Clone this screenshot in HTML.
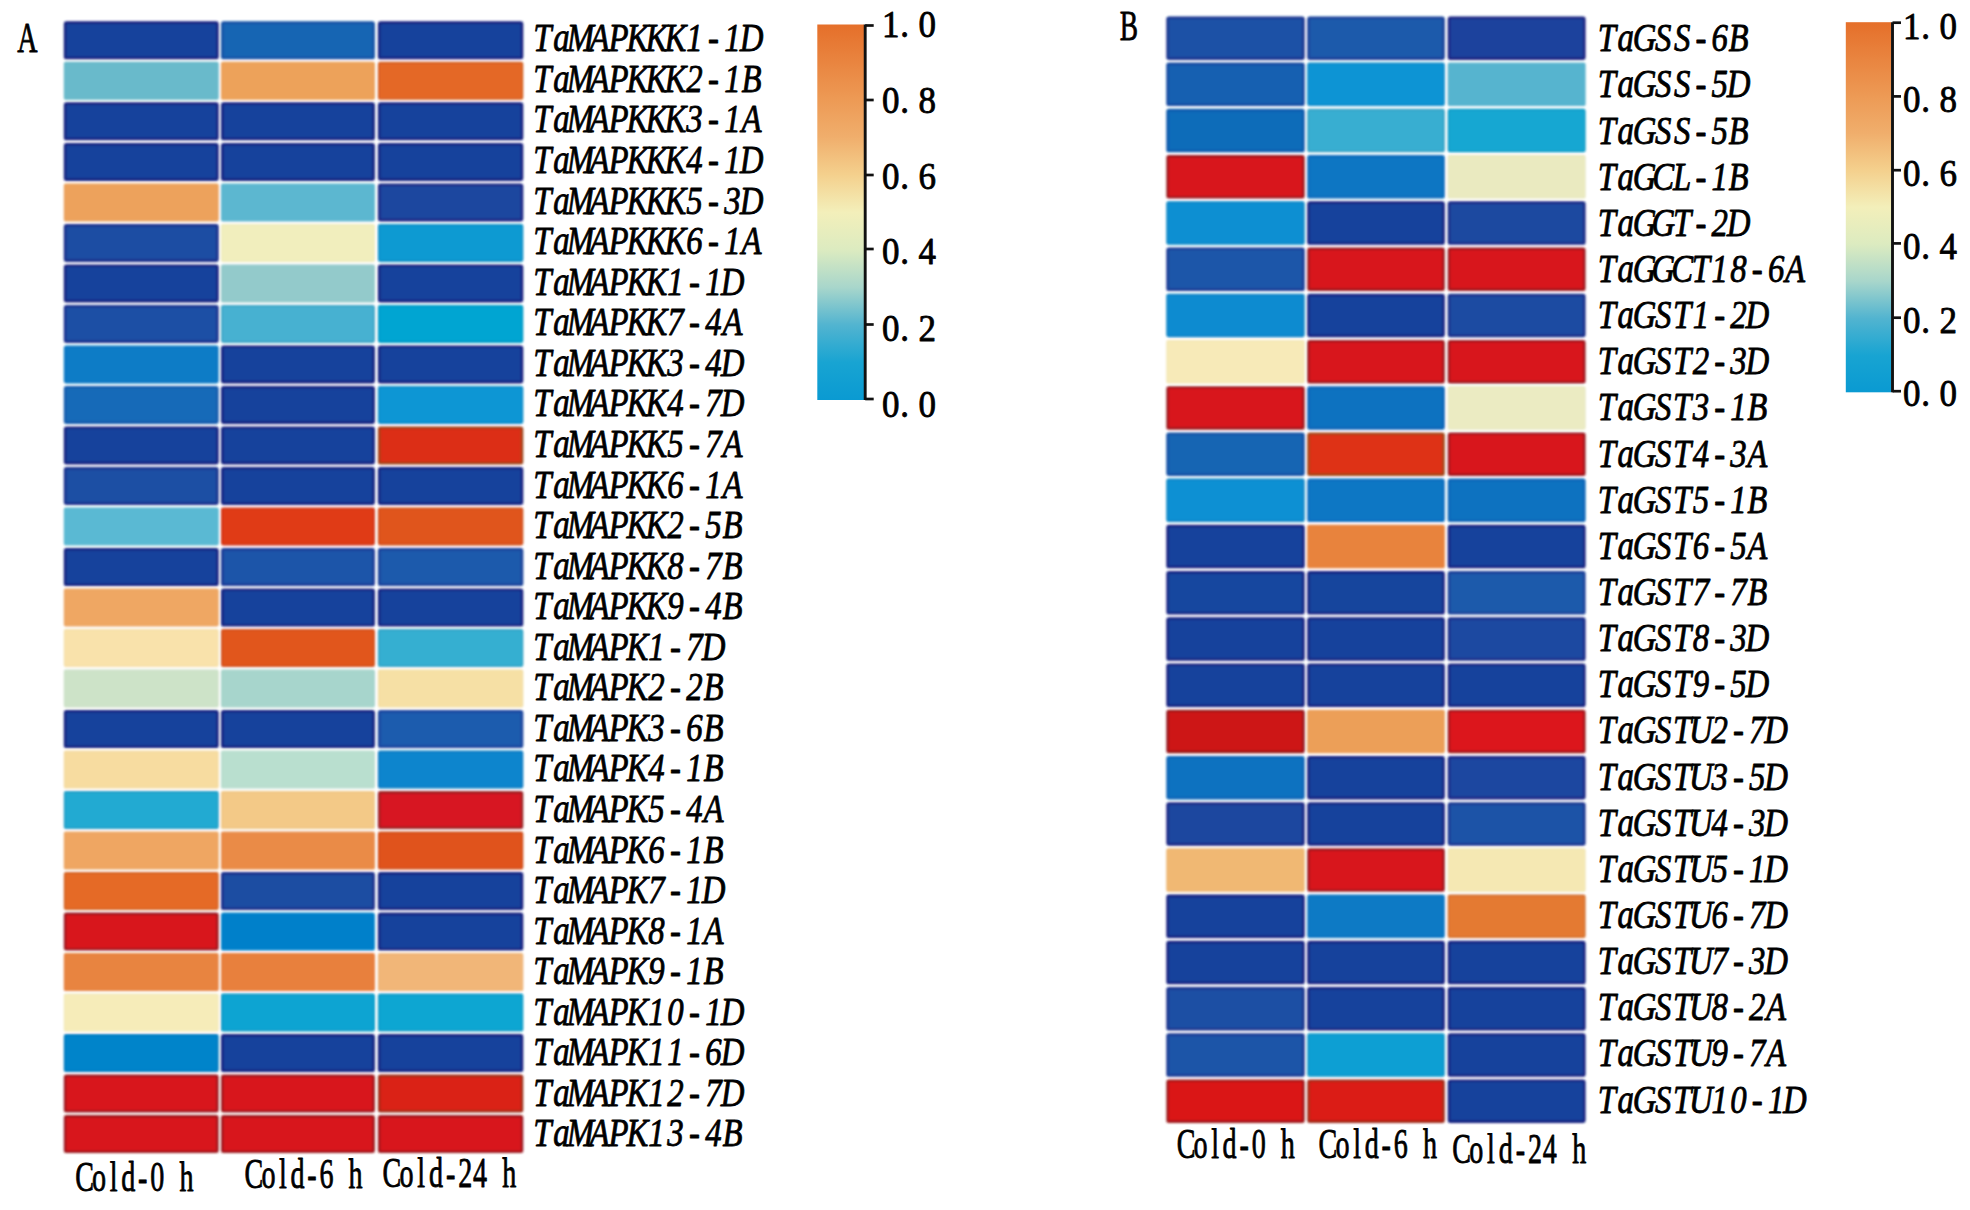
<!DOCTYPE html>
<html lang="en"><head><meta charset="utf-8"><title>Heatmap</title>
<style>
html,body{margin:0;padding:0;background:#fff}
svg{display:block}
text{font-family:"Liberation Serif",serif;fill:#000;stroke:#000;stroke-width:0.85px;stroke-linejoin:round}
</style></head>
<body>
<svg width="1970" height="1210" viewBox="0 0 1970 1210">
<defs>
<linearGradient id="cb" x1="0" y1="0" x2="0" y2="1">
<stop offset="0" stop-color="#e56f2a"/>
<stop offset="0.2" stop-color="#ed9a55"/>
<stop offset="0.3" stop-color="#f0ae6c"/>
<stop offset="0.4" stop-color="#f4d08d"/>
<stop offset="0.5" stop-color="#f3efba"/>
<stop offset="0.6" stop-color="#dcebc0"/>
<stop offset="0.7" stop-color="#a8d6cb"/>
<stop offset="0.8" stop-color="#52b4d0"/>
<stop offset="0.9" stop-color="#18a4d2"/>
<stop offset="1" stop-color="#0a9ad2"/>
</linearGradient>
<filter id="bl" x="-2%" y="-2%" width="104%" height="104%"><feGaussianBlur stdDeviation="0.9"/></filter>
</defs>
<rect width="1970" height="1210" fill="#fff"/>
<g id="cellsA" filter="url(#bl)">
<rect x="65.10" y="22.65" width="152.30" height="35.40" rx="1.3" fill="#18429c" stroke="#192280" stroke-width="2.6"/>
<rect x="222.30" y="22.65" width="151.30" height="35.40" rx="1.3" fill="#1565b3" stroke="#1552a6" stroke-width="2.6"/>
<rect x="379.20" y="22.65" width="142.80" height="35.40" rx="1.3" fill="#18429c" stroke="#192280" stroke-width="2.6"/>
<rect x="64.40" y="62.46" width="153.70" height="36.80" rx="1.3" fill="#69bacb" stroke="#67b7c8" stroke-width="1.2"/>
<rect x="221.60" y="62.46" width="152.70" height="36.80" rx="1.3" fill="#eda25a" stroke="#e9a059" stroke-width="1.2"/>
<rect x="378.70" y="62.66" width="143.80" height="36.40" rx="1.3" fill="#e46725" stroke="#d25f23" stroke-width="1.6"/>
<rect x="65.10" y="103.67" width="152.30" height="35.40" rx="1.3" fill="#18429c" stroke="#192280" stroke-width="2.6"/>
<rect x="222.30" y="103.67" width="151.30" height="35.40" rx="1.3" fill="#18429c" stroke="#192280" stroke-width="2.6"/>
<rect x="379.20" y="103.67" width="142.80" height="35.40" rx="1.3" fill="#18429c" stroke="#192280" stroke-width="2.6"/>
<rect x="65.10" y="144.18" width="152.30" height="35.40" rx="1.3" fill="#18429c" stroke="#192280" stroke-width="2.6"/>
<rect x="222.30" y="144.18" width="151.30" height="35.40" rx="1.3" fill="#18429c" stroke="#192280" stroke-width="2.6"/>
<rect x="379.20" y="144.18" width="142.80" height="35.40" rx="1.3" fill="#18429c" stroke="#192280" stroke-width="2.6"/>
<rect x="64.40" y="183.99" width="153.70" height="36.80" rx="1.3" fill="#eda25c" stroke="#e9a05b" stroke-width="1.2"/>
<rect x="221.60" y="183.99" width="152.70" height="36.80" rx="1.3" fill="#5cb7d0" stroke="#5bb4cd" stroke-width="1.2"/>
<rect x="379.20" y="184.69" width="142.80" height="35.40" rx="1.3" fill="#1a469f" stroke="#1b2684" stroke-width="2.6"/>
<rect x="65.10" y="225.20" width="152.30" height="35.40" rx="1.3" fill="#1a4da3" stroke="#1b2f8b" stroke-width="2.6"/>
<rect x="221.60" y="224.50" width="152.70" height="36.80" rx="1.3" fill="#f1eebd" stroke="#edeaba" stroke-width="1.2"/>
<rect x="378.70" y="224.70" width="143.80" height="36.40" rx="1.3" fill="#0a9ad2" stroke="#098ec5" stroke-width="1.6"/>
<rect x="65.10" y="265.71" width="152.30" height="35.40" rx="1.3" fill="#18429c" stroke="#192280" stroke-width="2.6"/>
<rect x="221.60" y="265.01" width="152.70" height="36.80" rx="1.3" fill="#93cacb" stroke="#91c7c8" stroke-width="1.2"/>
<rect x="379.20" y="265.71" width="142.80" height="35.40" rx="1.3" fill="#18429c" stroke="#192280" stroke-width="2.6"/>
<rect x="65.10" y="306.22" width="152.30" height="35.40" rx="1.3" fill="#1a50a5" stroke="#1b338f" stroke-width="2.6"/>
<rect x="221.80" y="305.72" width="152.30" height="36.40" rx="1.3" fill="#46b1d1" stroke="#40a3c4" stroke-width="1.6"/>
<rect x="378.70" y="305.72" width="143.80" height="36.40" rx="1.3" fill="#00a5d2" stroke="#0098c5" stroke-width="1.6"/>
<rect x="65.10" y="346.73" width="152.30" height="35.40" rx="1.3" fill="#0d7bc6" stroke="#0d79c5" stroke-width="2.6"/>
<rect x="222.30" y="346.73" width="151.30" height="35.40" rx="1.3" fill="#18429c" stroke="#192280" stroke-width="2.6"/>
<rect x="379.20" y="346.73" width="142.80" height="35.40" rx="1.3" fill="#18429c" stroke="#192280" stroke-width="2.6"/>
<rect x="65.10" y="387.24" width="152.30" height="35.40" rx="1.3" fill="#136bb8" stroke="#135cae" stroke-width="2.6"/>
<rect x="222.30" y="387.24" width="151.30" height="35.40" rx="1.3" fill="#18429c" stroke="#192280" stroke-width="2.6"/>
<rect x="378.70" y="386.74" width="143.80" height="36.40" rx="1.3" fill="#0d96d4" stroke="#0c8ac7" stroke-width="1.6"/>
<rect x="65.10" y="427.75" width="152.30" height="35.40" rx="1.3" fill="#18429c" stroke="#192280" stroke-width="2.6"/>
<rect x="222.30" y="427.75" width="151.30" height="35.40" rx="1.3" fill="#18429c" stroke="#192280" stroke-width="2.6"/>
<rect x="379.10" y="427.65" width="143.00" height="35.60" rx="1.3" fill="#dc2f17" stroke="#9e421c" stroke-width="2.4"/>
<rect x="65.10" y="468.26" width="152.30" height="35.40" rx="1.3" fill="#1a4fa4" stroke="#1b328d" stroke-width="2.6"/>
<rect x="222.30" y="468.26" width="151.30" height="35.40" rx="1.3" fill="#18429c" stroke="#192280" stroke-width="2.6"/>
<rect x="379.20" y="468.26" width="142.80" height="35.40" rx="1.3" fill="#18429c" stroke="#192280" stroke-width="2.6"/>
<rect x="64.40" y="508.07" width="153.70" height="36.80" rx="1.3" fill="#5ab9d3" stroke="#59b6d0" stroke-width="1.2"/>
<rect x="221.80" y="508.27" width="152.30" height="36.40" rx="1.3" fill="#e03a16" stroke="#ce3515" stroke-width="1.6"/>
<rect x="378.70" y="508.27" width="143.80" height="36.40" rx="1.3" fill="#e0551c" stroke="#ce4e1a" stroke-width="1.6"/>
<rect x="65.10" y="549.28" width="152.30" height="35.40" rx="1.3" fill="#18429c" stroke="#192280" stroke-width="2.6"/>
<rect x="222.30" y="549.28" width="151.30" height="35.40" rx="1.3" fill="#1d55a9" stroke="#1e3b96" stroke-width="2.6"/>
<rect x="379.20" y="549.28" width="142.80" height="35.40" rx="1.3" fill="#1a5aac" stroke="#1b429a" stroke-width="2.6"/>
<rect x="64.40" y="589.09" width="153.70" height="36.80" rx="1.3" fill="#efa763" stroke="#eba462" stroke-width="1.2"/>
<rect x="222.30" y="589.79" width="151.30" height="35.40" rx="1.3" fill="#18429c" stroke="#192280" stroke-width="2.6"/>
<rect x="379.20" y="589.79" width="142.80" height="35.40" rx="1.3" fill="#18429c" stroke="#192280" stroke-width="2.6"/>
<rect x="64.40" y="629.60" width="153.70" height="36.80" rx="1.3" fill="#f9e2ab" stroke="#f5dfa8" stroke-width="1.2"/>
<rect x="221.80" y="629.80" width="152.30" height="36.40" rx="1.3" fill="#e1571d" stroke="#cf501b" stroke-width="1.6"/>
<rect x="378.70" y="629.80" width="143.80" height="36.40" rx="1.3" fill="#36afd1" stroke="#32a1c4" stroke-width="1.6"/>
<rect x="64.40" y="670.11" width="153.70" height="36.80" rx="1.3" fill="#cde3c8" stroke="#cae0c5" stroke-width="1.2"/>
<rect x="221.60" y="670.11" width="152.70" height="36.80" rx="1.3" fill="#a7d5cc" stroke="#a4d2c9" stroke-width="1.2"/>
<rect x="378.50" y="670.11" width="144.20" height="36.80" rx="1.3" fill="#f6e0a5" stroke="#f2dda3" stroke-width="1.2"/>
<rect x="65.10" y="711.32" width="152.30" height="35.40" rx="1.3" fill="#18429c" stroke="#192280" stroke-width="2.6"/>
<rect x="222.30" y="711.32" width="151.30" height="35.40" rx="1.3" fill="#18429c" stroke="#192280" stroke-width="2.6"/>
<rect x="379.20" y="711.32" width="142.80" height="35.40" rx="1.3" fill="#1a5cae" stroke="#1b459e" stroke-width="2.6"/>
<rect x="64.40" y="751.13" width="153.70" height="36.80" rx="1.3" fill="#f7dca0" stroke="#f3d99e" stroke-width="1.2"/>
<rect x="221.60" y="751.13" width="152.70" height="36.80" rx="1.3" fill="#b9dfcf" stroke="#b6dccc" stroke-width="1.2"/>
<rect x="378.70" y="751.33" width="143.80" height="36.40" rx="1.3" fill="#0c85cd" stroke="#0b7ac1" stroke-width="1.6"/>
<rect x="64.60" y="791.84" width="153.30" height="36.40" rx="1.3" fill="#23aad2" stroke="#209cc5" stroke-width="1.6"/>
<rect x="221.60" y="791.64" width="152.70" height="36.80" rx="1.3" fill="#f3c987" stroke="#efc685" stroke-width="1.2"/>
<rect x="379.10" y="792.24" width="143.00" height="35.60" rx="1.3" fill="#d71920" stroke="#9b2326" stroke-width="2.4"/>
<rect x="64.40" y="832.15" width="153.70" height="36.80" rx="1.3" fill="#efa662" stroke="#eba461" stroke-width="1.2"/>
<rect x="221.60" y="832.15" width="152.70" height="36.80" rx="1.3" fill="#ea8b47" stroke="#e68946" stroke-width="1.2"/>
<rect x="378.70" y="832.35" width="143.80" height="36.40" rx="1.3" fill="#e0531a" stroke="#ce4c18" stroke-width="1.6"/>
<rect x="64.60" y="872.86" width="153.30" height="36.40" rx="1.3" fill="#e56a26" stroke="#d36224" stroke-width="1.6"/>
<rect x="222.30" y="873.36" width="151.30" height="35.40" rx="1.3" fill="#1c4da2" stroke="#1d2f8b" stroke-width="2.6"/>
<rect x="379.20" y="873.36" width="142.80" height="35.40" rx="1.3" fill="#18429c" stroke="#192280" stroke-width="2.6"/>
<rect x="65.00" y="913.77" width="152.50" height="35.60" rx="1.3" fill="#d8131b" stroke="#9c1b20" stroke-width="2.4"/>
<rect x="222.30" y="913.87" width="151.30" height="35.40" rx="1.3" fill="#0680ca" stroke="#0680ca" stroke-width="2.6"/>
<rect x="379.20" y="913.87" width="142.80" height="35.40" rx="1.3" fill="#18429c" stroke="#192280" stroke-width="2.6"/>
<rect x="64.40" y="953.68" width="153.70" height="36.80" rx="1.3" fill="#e88440" stroke="#e5823f" stroke-width="1.2"/>
<rect x="221.60" y="953.68" width="152.70" height="36.80" rx="1.3" fill="#e8803d" stroke="#e57e3c" stroke-width="1.2"/>
<rect x="378.50" y="953.68" width="144.20" height="36.80" rx="1.3" fill="#f1b678" stroke="#edb376" stroke-width="1.2"/>
<rect x="64.40" y="994.19" width="153.70" height="36.80" rx="1.3" fill="#f6ecb9" stroke="#f2e8b6" stroke-width="1.2"/>
<rect x="221.80" y="994.39" width="152.30" height="36.40" rx="1.3" fill="#08a4d2" stroke="#0797c5" stroke-width="1.6"/>
<rect x="378.70" y="994.39" width="143.80" height="36.40" rx="1.3" fill="#10a6d2" stroke="#0f99c5" stroke-width="1.6"/>
<rect x="64.60" y="1034.90" width="153.30" height="36.40" rx="1.3" fill="#0584ca" stroke="#0579be" stroke-width="1.6"/>
<rect x="222.30" y="1035.40" width="151.30" height="35.40" rx="1.3" fill="#18429c" stroke="#192280" stroke-width="2.6"/>
<rect x="379.20" y="1035.40" width="142.80" height="35.40" rx="1.3" fill="#18429c" stroke="#192280" stroke-width="2.6"/>
<rect x="65.00" y="1075.81" width="152.50" height="35.60" rx="1.3" fill="#d8131b" stroke="#9c1b20" stroke-width="2.4"/>
<rect x="222.20" y="1075.81" width="151.50" height="35.60" rx="1.3" fill="#d8131b" stroke="#9c1b20" stroke-width="2.4"/>
<rect x="379.10" y="1075.81" width="143.00" height="35.60" rx="1.3" fill="#da2018" stroke="#9d2d1d" stroke-width="2.4"/>
<rect x="65.00" y="1116.32" width="152.50" height="35.60" rx="1.3" fill="#d8131b" stroke="#9c1b20" stroke-width="2.4"/>
<rect x="222.20" y="1116.32" width="151.50" height="35.60" rx="1.3" fill="#d8131b" stroke="#9c1b20" stroke-width="2.4"/>
<rect x="379.10" y="1116.32" width="143.00" height="35.60" rx="1.3" fill="#d8131b" stroke="#9c1b20" stroke-width="2.4"/>
</g>
<g id="labelsA">
<text transform="scale(0.8000,1)" x="666.72 691.62 708.55 736.85 760.60 783.20 806.95 830.70 857.87 885.05 905.37 924.57" y="51.4" font-size="41.0" font-style="italic">TaMAPKKK1-1D</text>
<text transform="scale(0.8000,1)" x="666.72 691.62 708.55 736.85 760.60 783.20 806.95 830.70 857.87 885.05 905.37 926.85" y="92.0" font-size="41.0" font-style="italic">TaMAPKKK2-1B</text>
<text transform="scale(0.8000,1)" x="666.72 691.62 708.55 736.85 760.60 783.20 806.95 830.70 857.87 885.05 905.37 926.85" y="132.5" font-size="41.0" font-style="italic">TaMAPKKK3-1A</text>
<text transform="scale(0.8000,1)" x="666.72 691.62 708.55 736.85 760.60 783.20 806.95 830.70 857.87 885.05 905.37 924.57" y="173.1" font-size="41.0" font-style="italic">TaMAPKKK4-1D</text>
<text transform="scale(0.8000,1)" x="666.72 691.62 708.55 736.85 760.60 783.20 806.95 830.70 857.87 885.05 905.37 924.57" y="213.6" font-size="41.0" font-style="italic">TaMAPKKK5-3D</text>
<text transform="scale(0.8000,1)" x="666.72 691.62 708.55 736.85 760.60 783.20 806.95 830.70 857.87 885.05 905.37 926.85" y="254.2" font-size="41.0" font-style="italic">TaMAPKKK6-1A</text>
<text transform="scale(0.8000,1)" x="666.72 691.62 708.55 736.85 760.60 783.20 806.95 834.12 861.30 881.62 900.82" y="294.8" font-size="41.0" font-style="italic">TaMAPKK1-1D</text>
<text transform="scale(0.8000,1)" x="666.72 691.62 708.55 736.85 760.60 783.20 806.95 834.12 861.30 881.62 903.10" y="335.3" font-size="41.0" font-style="italic">TaMAPKK7-4A</text>
<text transform="scale(0.8000,1)" x="666.72 691.62 708.55 736.85 760.60 783.20 806.95 834.12 861.30 881.62 900.82" y="375.9" font-size="41.0" font-style="italic">TaMAPKK3-4D</text>
<text transform="scale(0.8000,1)" x="666.72 691.62 708.55 736.85 760.60 783.20 806.95 834.12 861.30 881.62 900.82" y="416.4" font-size="41.0" font-style="italic">TaMAPKK4-7D</text>
<text transform="scale(0.8000,1)" x="666.72 691.62 708.55 736.85 760.60 783.20 806.95 834.12 861.30 881.62 903.10" y="457.0" font-size="41.0" font-style="italic">TaMAPKK5-7A</text>
<text transform="scale(0.8000,1)" x="666.72 691.62 708.55 736.85 760.60 783.20 806.95 834.12 861.30 881.62 903.10" y="497.6" font-size="41.0" font-style="italic">TaMAPKK6-1A</text>
<text transform="scale(0.8000,1)" x="666.72 691.62 708.55 736.85 760.60 783.20 806.95 834.12 861.30 881.62 903.10" y="538.1" font-size="41.0" font-style="italic">TaMAPKK2-5B</text>
<text transform="scale(0.8000,1)" x="666.72 691.62 708.55 736.85 760.60 783.20 806.95 834.12 861.30 881.62 903.10" y="578.7" font-size="41.0" font-style="italic">TaMAPKK8-7B</text>
<text transform="scale(0.8000,1)" x="666.72 691.62 708.55 736.85 760.60 783.20 806.95 834.12 861.30 881.62 903.10" y="619.2" font-size="41.0" font-style="italic">TaMAPKK9-4B</text>
<text transform="scale(0.8000,1)" x="666.72 691.62 708.55 736.85 760.60 783.20 810.37 837.55 857.87 877.07" y="659.8" font-size="41.0" font-style="italic">TaMAPK1-7D</text>
<text transform="scale(0.8000,1)" x="666.72 691.62 708.55 736.85 760.60 783.20 810.37 837.55 857.87 879.35" y="700.4" font-size="41.0" font-style="italic">TaMAPK2-2B</text>
<text transform="scale(0.8000,1)" x="666.72 691.62 708.55 736.85 760.60 783.20 810.37 837.55 857.87 879.35" y="740.9" font-size="41.0" font-style="italic">TaMAPK3-6B</text>
<text transform="scale(0.8000,1)" x="666.72 691.62 708.55 736.85 760.60 783.20 810.37 837.55 857.87 879.35" y="781.5" font-size="41.0" font-style="italic">TaMAPK4-1B</text>
<text transform="scale(0.8000,1)" x="666.72 691.62 708.55 736.85 760.60 783.20 810.37 837.55 857.87 879.35" y="822.0" font-size="41.0" font-style="italic">TaMAPK5-4A</text>
<text transform="scale(0.8000,1)" x="666.72 691.62 708.55 736.85 760.60 783.20 810.37 837.55 857.87 879.35" y="862.6" font-size="41.0" font-style="italic">TaMAPK6-1B</text>
<text transform="scale(0.8000,1)" x="666.72 691.62 708.55 736.85 760.60 783.20 810.37 837.55 857.87 877.07" y="903.2" font-size="41.0" font-style="italic">TaMAPK7-1D</text>
<text transform="scale(0.8000,1)" x="666.72 691.62 708.55 736.85 760.60 783.20 810.37 837.55 857.87 879.35" y="943.7" font-size="41.0" font-style="italic">TaMAPK8-1A</text>
<text transform="scale(0.8000,1)" x="666.72 691.62 708.55 736.85 760.60 783.20 810.37 837.55 857.87 879.35" y="984.3" font-size="41.0" font-style="italic">TaMAPK9-1B</text>
<text transform="scale(0.8000,1)" x="666.72 691.62 708.55 736.85 760.60 783.20 810.37 834.12 861.30 881.62 900.82" y="1024.8" font-size="41.0" font-style="italic">TaMAPK10-1D</text>
<text transform="scale(0.8000,1)" x="666.72 691.62 708.55 736.85 760.60 783.20 810.37 834.12 861.30 881.62 900.82" y="1065.4" font-size="41.0" font-style="italic">TaMAPK11-6D</text>
<text transform="scale(0.8000,1)" x="666.72 691.62 708.55 736.85 760.60 783.20 810.37 834.12 861.30 881.62 900.82" y="1106.0" font-size="41.0" font-style="italic">TaMAPK12-7D</text>
<text transform="scale(0.8000,1)" x="666.72 691.62 708.55 736.85 760.60 783.20 810.37 834.12 861.30 881.62 903.10" y="1146.5" font-size="41.0" font-style="italic">TaMAPK13-4B</text>
</g>
<g id="cellsB" filter="url(#bl)">
<rect x="1167.60" y="17.70" width="135.80" height="40.90" rx="1.3" fill="#1b51a6" stroke="#1c3590" stroke-width="2.6"/>
<rect x="1308.50" y="17.70" width="135.00" height="40.90" rx="1.3" fill="#1a5aab" stroke="#1b4199" stroke-width="2.6"/>
<rect x="1449.00" y="17.70" width="135.30" height="40.90" rx="1.3" fill="#1a439d" stroke="#1b2381" stroke-width="2.6"/>
<rect x="1167.60" y="63.92" width="135.80" height="40.90" rx="1.3" fill="#1461b1" stroke="#144ba2" stroke-width="2.6"/>
<rect x="1308.00" y="63.42" width="136.00" height="41.90" rx="1.3" fill="#0994d4" stroke="#0888c7" stroke-width="1.6"/>
<rect x="1448.30" y="63.22" width="136.70" height="42.30" rx="1.3" fill="#57b4cf" stroke="#56b1cc" stroke-width="1.2"/>
<rect x="1167.60" y="110.14" width="135.80" height="40.90" rx="1.3" fill="#0b6cb9" stroke="#0b5aad" stroke-width="2.6"/>
<rect x="1308.00" y="109.64" width="136.00" height="41.90" rx="1.3" fill="#38aed1" stroke="#34a0c4" stroke-width="1.6"/>
<rect x="1448.50" y="109.64" width="136.30" height="41.90" rx="1.3" fill="#12a7d2" stroke="#119ac5" stroke-width="1.6"/>
<rect x="1167.50" y="156.26" width="136.00" height="41.10" rx="1.3" fill="#d8131b" stroke="#9c1b20" stroke-width="2.4"/>
<rect x="1308.50" y="156.36" width="135.00" height="40.90" rx="1.3" fill="#0976c3" stroke="#096dbd" stroke-width="2.6"/>
<rect x="1448.30" y="155.66" width="136.70" height="42.30" rx="1.3" fill="#eaeac0" stroke="#e6e6bd" stroke-width="1.2"/>
<rect x="1167.10" y="202.08" width="136.80" height="41.90" rx="1.3" fill="#0a8fd2" stroke="#0984c5" stroke-width="1.6"/>
<rect x="1308.50" y="202.58" width="135.00" height="40.90" rx="1.3" fill="#18429c" stroke="#192280" stroke-width="2.6"/>
<rect x="1449.00" y="202.58" width="135.30" height="40.90" rx="1.3" fill="#1a48a0" stroke="#1b2986" stroke-width="2.6"/>
<rect x="1167.60" y="248.80" width="135.80" height="40.90" rx="1.3" fill="#1a56a9" stroke="#1b3b95" stroke-width="2.6"/>
<rect x="1308.40" y="248.70" width="135.20" height="41.10" rx="1.3" fill="#d8131b" stroke="#9c1b20" stroke-width="2.4"/>
<rect x="1448.90" y="248.70" width="135.50" height="41.10" rx="1.3" fill="#d8131b" stroke="#9c1b20" stroke-width="2.4"/>
<rect x="1167.10" y="294.52" width="136.80" height="41.90" rx="1.3" fill="#0a8bd0" stroke="#0980c4" stroke-width="1.6"/>
<rect x="1308.50" y="295.02" width="135.00" height="40.90" rx="1.3" fill="#18429c" stroke="#192280" stroke-width="2.6"/>
<rect x="1449.00" y="295.02" width="135.30" height="40.90" rx="1.3" fill="#1a4ca2" stroke="#1b2e8a" stroke-width="2.6"/>
<rect x="1166.90" y="340.54" width="137.20" height="42.30" rx="1.3" fill="#f7eab8" stroke="#f3e6b5" stroke-width="1.2"/>
<rect x="1308.40" y="341.14" width="135.20" height="41.10" rx="1.3" fill="#d8131b" stroke="#9c1b20" stroke-width="2.4"/>
<rect x="1448.90" y="341.14" width="135.50" height="41.10" rx="1.3" fill="#d8131b" stroke="#9c1b20" stroke-width="2.4"/>
<rect x="1167.50" y="387.36" width="136.00" height="41.10" rx="1.3" fill="#d8131b" stroke="#9c1b20" stroke-width="2.4"/>
<rect x="1308.50" y="387.46" width="135.00" height="40.90" rx="1.3" fill="#0a72c0" stroke="#0a65b8" stroke-width="2.6"/>
<rect x="1448.30" y="386.76" width="136.70" height="42.30" rx="1.3" fill="#ebebc2" stroke="#e7e7bf" stroke-width="1.2"/>
<rect x="1167.60" y="433.68" width="135.80" height="40.90" rx="1.3" fill="#1665b3" stroke="#1652a6" stroke-width="2.6"/>
<rect x="1308.40" y="433.58" width="135.20" height="41.10" rx="1.3" fill="#de3214" stroke="#a04618" stroke-width="2.4"/>
<rect x="1448.90" y="433.58" width="135.50" height="41.10" rx="1.3" fill="#d8131b" stroke="#9c1b20" stroke-width="2.4"/>
<rect x="1167.10" y="479.40" width="136.80" height="41.90" rx="1.3" fill="#0a90d3" stroke="#0984c6" stroke-width="1.6"/>
<rect x="1308.50" y="479.90" width="135.00" height="40.90" rx="1.3" fill="#0c77c4" stroke="#0c70c0" stroke-width="2.6"/>
<rect x="1449.00" y="479.90" width="135.30" height="40.90" rx="1.3" fill="#0b72c0" stroke="#0b66b8" stroke-width="2.6"/>
<rect x="1167.60" y="526.12" width="135.80" height="40.90" rx="1.3" fill="#18429c" stroke="#192280" stroke-width="2.6"/>
<rect x="1307.80" y="525.42" width="136.40" height="42.30" rx="1.3" fill="#e8833d" stroke="#e5813c" stroke-width="1.2"/>
<rect x="1449.00" y="526.12" width="135.30" height="40.90" rx="1.3" fill="#18429c" stroke="#192280" stroke-width="2.6"/>
<rect x="1167.60" y="572.34" width="135.80" height="40.90" rx="1.3" fill="#19469f" stroke="#1a2684" stroke-width="2.6"/>
<rect x="1308.50" y="572.34" width="135.00" height="40.90" rx="1.3" fill="#19449d" stroke="#1a2481" stroke-width="2.6"/>
<rect x="1449.00" y="572.34" width="135.30" height="40.90" rx="1.3" fill="#1a5aab" stroke="#1b4199" stroke-width="2.6"/>
<rect x="1167.60" y="618.56" width="135.80" height="40.90" rx="1.3" fill="#18429c" stroke="#192280" stroke-width="2.6"/>
<rect x="1308.50" y="618.56" width="135.00" height="40.90" rx="1.3" fill="#18429c" stroke="#192280" stroke-width="2.6"/>
<rect x="1449.00" y="618.56" width="135.30" height="40.90" rx="1.3" fill="#1a4aa1" stroke="#1b2b88" stroke-width="2.6"/>
<rect x="1167.60" y="664.78" width="135.80" height="40.90" rx="1.3" fill="#18429c" stroke="#192280" stroke-width="2.6"/>
<rect x="1308.50" y="664.78" width="135.00" height="40.90" rx="1.3" fill="#18429c" stroke="#192280" stroke-width="2.6"/>
<rect x="1449.00" y="664.78" width="135.30" height="40.90" rx="1.3" fill="#18429c" stroke="#192280" stroke-width="2.6"/>
<rect x="1167.50" y="710.90" width="136.00" height="41.10" rx="1.3" fill="#cd1219" stroke="#94191e" stroke-width="2.4"/>
<rect x="1307.80" y="710.30" width="136.40" height="42.30" rx="1.3" fill="#ec9f58" stroke="#e89d57" stroke-width="1.2"/>
<rect x="1448.90" y="710.90" width="135.50" height="41.10" rx="1.3" fill="#dc131a" stroke="#9e1b1f" stroke-width="2.4"/>
<rect x="1167.60" y="757.22" width="135.80" height="40.90" rx="1.3" fill="#0b72c0" stroke="#0b66b8" stroke-width="2.6"/>
<rect x="1308.50" y="757.22" width="135.00" height="40.90" rx="1.3" fill="#18429c" stroke="#192280" stroke-width="2.6"/>
<rect x="1449.00" y="757.22" width="135.30" height="40.90" rx="1.3" fill="#1a46a0" stroke="#1b2685" stroke-width="2.6"/>
<rect x="1167.60" y="803.44" width="135.80" height="40.90" rx="1.3" fill="#1a469f" stroke="#1b2684" stroke-width="2.6"/>
<rect x="1308.50" y="803.44" width="135.00" height="40.90" rx="1.3" fill="#18429c" stroke="#192280" stroke-width="2.6"/>
<rect x="1449.00" y="803.44" width="135.30" height="40.90" rx="1.3" fill="#1a52a7" stroke="#1b3691" stroke-width="2.6"/>
<rect x="1166.90" y="848.96" width="137.20" height="42.30" rx="1.3" fill="#f0b873" stroke="#ecb571" stroke-width="1.2"/>
<rect x="1308.40" y="849.56" width="135.20" height="41.10" rx="1.3" fill="#d8131b" stroke="#9c1b20" stroke-width="2.4"/>
<rect x="1448.30" y="848.96" width="136.70" height="42.30" rx="1.3" fill="#f5e8b3" stroke="#f1e5b0" stroke-width="1.2"/>
<rect x="1167.60" y="895.88" width="135.80" height="40.90" rx="1.3" fill="#18429c" stroke="#192280" stroke-width="2.6"/>
<rect x="1308.50" y="895.88" width="135.00" height="40.90" rx="1.3" fill="#0e7ac5" stroke="#0e77c3" stroke-width="2.6"/>
<rect x="1448.50" y="895.38" width="136.30" height="41.90" rx="1.3" fill="#e47a33" stroke="#d27030" stroke-width="1.6"/>
<rect x="1167.60" y="942.10" width="135.80" height="40.90" rx="1.3" fill="#18429c" stroke="#192280" stroke-width="2.6"/>
<rect x="1308.50" y="942.10" width="135.00" height="40.90" rx="1.3" fill="#18429c" stroke="#192280" stroke-width="2.6"/>
<rect x="1449.00" y="942.10" width="135.30" height="40.90" rx="1.3" fill="#18429c" stroke="#192280" stroke-width="2.6"/>
<rect x="1167.60" y="988.32" width="135.80" height="40.90" rx="1.3" fill="#1a4fa4" stroke="#1b328d" stroke-width="2.6"/>
<rect x="1308.50" y="988.32" width="135.00" height="40.90" rx="1.3" fill="#18429c" stroke="#192280" stroke-width="2.6"/>
<rect x="1449.00" y="988.32" width="135.30" height="40.90" rx="1.3" fill="#18429c" stroke="#192280" stroke-width="2.6"/>
<rect x="1167.60" y="1034.54" width="135.80" height="40.90" rx="1.3" fill="#1a55a8" stroke="#1b3a94" stroke-width="2.6"/>
<rect x="1308.00" y="1034.04" width="136.00" height="41.90" rx="1.3" fill="#0a9fd3" stroke="#0992c6" stroke-width="1.6"/>
<rect x="1449.00" y="1034.54" width="135.30" height="40.90" rx="1.3" fill="#18429c" stroke="#192280" stroke-width="2.6"/>
<rect x="1167.50" y="1080.66" width="136.00" height="41.10" rx="1.3" fill="#da1418" stroke="#9d1c1d" stroke-width="2.4"/>
<rect x="1308.40" y="1080.66" width="135.20" height="41.10" rx="1.3" fill="#db1f17" stroke="#9e2b1c" stroke-width="2.4"/>
<rect x="1449.00" y="1080.76" width="135.30" height="40.90" rx="1.3" fill="#18429c" stroke="#192280" stroke-width="2.6"/>
</g>
<g id="labelsB">
<text transform="scale(0.8000,1)" x="1997.22 2021.88 2040.82 2068.88 2092.38 2119.30 2139.38 2160.60" y="51.4" font-size="41.0" font-style="italic">TaGSS-6B</text>
<text transform="scale(0.8000,1)" x="1997.22 2021.88 2040.82 2068.88 2092.38 2119.30 2139.38 2158.32" y="97.5" font-size="41.0" font-style="italic">TaGSS-5D</text>
<text transform="scale(0.8000,1)" x="1997.22 2021.88 2040.82 2068.88 2092.38 2119.30 2139.38 2160.60" y="143.7" font-size="41.0" font-style="italic">TaGSS-5B</text>
<text transform="scale(0.8000,1)" x="1997.22 2021.88 2040.82 2065.45 2091.22 2119.30 2139.38 2160.60" y="189.8" font-size="41.0" font-style="italic">TaGCL-1B</text>
<text transform="scale(0.8000,1)" x="1997.22 2021.88 2040.82 2064.32 2091.22 2119.30 2139.38 2158.32" y="236.0" font-size="41.0" font-style="italic">TaGGT-2D</text>
<text transform="scale(0.8000,1)" x="1997.22 2021.88 2040.82 2064.32 2088.95 2114.72 2139.38 2162.88 2189.80 2209.88 2231.10" y="282.1" font-size="41.0" font-style="italic">TaGGCT18-6A</text>
<text transform="scale(0.8000,1)" x="1997.22 2021.88 2040.82 2068.88 2091.22 2115.88 2142.80 2162.88 2181.82" y="328.2" font-size="41.0" font-style="italic">TaGST1-2D</text>
<text transform="scale(0.8000,1)" x="1997.22 2021.88 2040.82 2068.88 2091.22 2115.88 2142.80 2162.88 2181.82" y="374.4" font-size="41.0" font-style="italic">TaGST2-3D</text>
<text transform="scale(0.8000,1)" x="1997.22 2021.88 2040.82 2068.88 2091.22 2115.88 2142.80 2162.88 2184.10" y="420.5" font-size="41.0" font-style="italic">TaGST3-1B</text>
<text transform="scale(0.8000,1)" x="1997.22 2021.88 2040.82 2068.88 2091.22 2115.88 2142.80 2162.88 2184.10" y="466.7" font-size="41.0" font-style="italic">TaGST4-3A</text>
<text transform="scale(0.8000,1)" x="1997.22 2021.88 2040.82 2068.88 2091.22 2115.88 2142.80 2162.88 2184.10" y="512.8" font-size="41.0" font-style="italic">TaGST5-1B</text>
<text transform="scale(0.8000,1)" x="1997.22 2021.88 2040.82 2068.88 2091.22 2115.88 2142.80 2162.88 2184.10" y="558.9" font-size="41.0" font-style="italic">TaGST6-5A</text>
<text transform="scale(0.8000,1)" x="1997.22 2021.88 2040.82 2068.88 2091.22 2115.88 2142.80 2162.88 2184.10" y="605.1" font-size="41.0" font-style="italic">TaGST7-7B</text>
<text transform="scale(0.8000,1)" x="1997.22 2021.88 2040.82 2068.88 2091.22 2115.88 2142.80 2162.88 2181.82" y="651.2" font-size="41.0" font-style="italic">TaGST8-3D</text>
<text transform="scale(0.8000,1)" x="1997.22 2021.88 2040.82 2068.88 2091.22 2115.88 2142.80 2162.88 2181.82" y="697.4" font-size="41.0" font-style="italic">TaGST9-5D</text>
<text transform="scale(0.8000,1)" x="1997.22 2021.88 2040.82 2068.88 2091.22 2111.32 2139.38 2166.30 2186.38 2205.32" y="743.5" font-size="41.0" font-style="italic">TaGSTU2-7D</text>
<text transform="scale(0.8000,1)" x="1997.22 2021.88 2040.82 2068.88 2091.22 2111.32 2139.38 2166.30 2186.38 2205.32" y="789.6" font-size="41.0" font-style="italic">TaGSTU3-5D</text>
<text transform="scale(0.8000,1)" x="1997.22 2021.88 2040.82 2068.88 2091.22 2111.32 2139.38 2166.30 2186.38 2205.32" y="835.8" font-size="41.0" font-style="italic">TaGSTU4-3D</text>
<text transform="scale(0.8000,1)" x="1997.22 2021.88 2040.82 2068.88 2091.22 2111.32 2139.38 2166.30 2186.38 2205.32" y="881.9" font-size="41.0" font-style="italic">TaGSTU5-1D</text>
<text transform="scale(0.8000,1)" x="1997.22 2021.88 2040.82 2068.88 2091.22 2111.32 2139.38 2166.30 2186.38 2205.32" y="928.1" font-size="41.0" font-style="italic">TaGSTU6-7D</text>
<text transform="scale(0.8000,1)" x="1997.22 2021.88 2040.82 2068.88 2091.22 2111.32 2139.38 2166.30 2186.38 2205.32" y="974.2" font-size="41.0" font-style="italic">TaGSTU7-3D</text>
<text transform="scale(0.8000,1)" x="1997.22 2021.88 2040.82 2068.88 2091.22 2111.32 2139.38 2166.30 2186.38 2207.60" y="1020.3" font-size="41.0" font-style="italic">TaGSTU8-2A</text>
<text transform="scale(0.8000,1)" x="1997.22 2021.88 2040.82 2068.88 2091.22 2111.32 2139.38 2166.30 2186.38 2207.60" y="1066.5" font-size="41.0" font-style="italic">TaGSTU9-7A</text>
<text transform="scale(0.8000,1)" x="1997.22 2021.88 2040.82 2068.88 2091.22 2111.32 2139.38 2162.88 2189.80 2209.88 2228.82" y="1112.6" font-size="41.0" font-style="italic">TaGSTU10-1D</text>
</g>
<text transform="scale(0.6600,1)" x="113.83 139.44 166.23 183.57 209.18 227.70 255.08 271.83" y="1191.3" font-size="42.5">Cold-0 h</text>
<text transform="scale(0.6600,1)" x="370.60 396.12 422.81 440.06 465.57 484.00 511.28 527.94" y="1187.9" font-size="42.5">Cold-6 h</text>
<text transform="scale(0.6600,1)" x="579.53 605.33 632.31 649.85 675.65 694.36 716.61 744.18 761.13" y="1187.0" font-size="42.5">Cold-24 h</text>
<text transform="scale(0.6600,1)" x="1782.89 1808.45 1835.18 1852.46 1878.02 1896.48 1923.80 1940.49" y="1158.5" font-size="42.5">Cold-0 h</text>
<text transform="scale(0.6600,1)" x="1997.65 2023.34 2050.20 2067.62 2093.31 2111.90 2139.36 2156.18" y="1158.5" font-size="42.5">Cold-6 h</text>
<text transform="scale(0.6600,1)" x="2200.44 2226.24 2253.22 2270.76 2296.56 2315.27 2337.52 2365.09 2382.03" y="1163.0" font-size="42.5">Cold-24 h</text>
<text transform="scale(0.6600,1)" x="26.32" y="52.0" font-size="42.5">A</text>
<text transform="scale(0.6600,1)" x="1696.77" y="40.0" font-size="41.5">B</text>
<rect x="817.3" y="24.5" width="46.7" height="375.5" fill="url(#cb)"/>
<line x1="865.2" y1="24.5" x2="865.2" y2="400.0" stroke="#111" stroke-width="2.9"/>
<line x1="865.2" y1="25.5" x2="873.7" y2="25.5" stroke="#111" stroke-width="2.7"/>
<line x1="865.2" y1="100.0" x2="873.7" y2="100.0" stroke="#111" stroke-width="2.7"/>
<line x1="865.2" y1="175.0" x2="873.7" y2="175.0" stroke="#111" stroke-width="2.7"/>
<line x1="865.2" y1="249.0" x2="873.7" y2="249.0" stroke="#111" stroke-width="2.7"/>
<line x1="865.2" y1="324.5" x2="873.7" y2="324.5" stroke="#111" stroke-width="2.7"/>
<line x1="865.2" y1="399.0" x2="873.7" y2="399.0" stroke="#111" stroke-width="2.7"/>
<text transform="scale(0.9200,1)" x="958.60 978.59 998.38" y="37.3" font-size="38.0">1.0</text>
<text transform="scale(0.9200,1)" x="958.60 978.59 998.38" y="113.0" font-size="38.0">0.8</text>
<text transform="scale(0.9200,1)" x="958.60 978.59 998.38" y="189.0" font-size="38.0">0.6</text>
<text transform="scale(0.9200,1)" x="958.60 978.59 998.38" y="264.5" font-size="38.0">0.4</text>
<text transform="scale(0.9200,1)" x="958.60 978.59 998.38" y="341.0" font-size="38.0">0.2</text>
<text transform="scale(0.9200,1)" x="958.60 978.59 998.38" y="417.3" font-size="38.0">0.0</text>
<rect x="1845.8" y="22.2" width="45.5" height="370.1" fill="url(#cb)"/>
<line x1="1892.5" y1="22.2" x2="1892.5" y2="392.3" stroke="#111" stroke-width="2.9"/>
<line x1="1892.5" y1="22.7" x2="1901.0" y2="22.7" stroke="#111" stroke-width="2.7"/>
<line x1="1892.5" y1="96.4" x2="1901.0" y2="96.4" stroke="#111" stroke-width="2.7"/>
<line x1="1892.5" y1="170.2" x2="1901.0" y2="170.2" stroke="#111" stroke-width="2.7"/>
<line x1="1892.5" y1="243.4" x2="1901.0" y2="243.4" stroke="#111" stroke-width="2.7"/>
<line x1="1892.5" y1="317.7" x2="1901.0" y2="317.7" stroke="#111" stroke-width="2.7"/>
<line x1="1892.5" y1="391.2" x2="1901.0" y2="391.2" stroke="#111" stroke-width="2.7"/>
<text transform="scale(0.9200,1)" x="2068.38 2088.37 2108.16" y="39.4" font-size="38.0">1.0</text>
<text transform="scale(0.9200,1)" x="2068.38 2088.37 2108.16" y="112.3" font-size="38.0">0.8</text>
<text transform="scale(0.9200,1)" x="2068.38 2088.37 2108.16" y="185.6" font-size="38.0">0.6</text>
<text transform="scale(0.9200,1)" x="2068.38 2088.37 2108.16" y="259.0" font-size="38.0">0.4</text>
<text transform="scale(0.9200,1)" x="2068.38 2088.37 2108.16" y="332.6" font-size="38.0">0.2</text>
<text transform="scale(0.9200,1)" x="2068.38 2088.37 2108.16" y="406.0" font-size="38.0">0.0</text>
</svg>
</body></html>
